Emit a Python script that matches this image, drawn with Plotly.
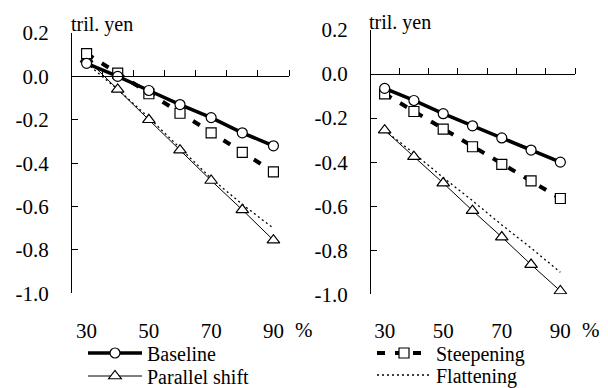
import plotly.graph_objects as go

# Loan-to-value style ratio buckets (%)
ratios = [30, 40, 50, 60, 70, 80, 90]

# Left panel (tril. yen)
left_baseline = [0.06, 0.00, -0.065, -0.13, -0.19, -0.26, -0.32]
left_steepening = [0.105, 0.015, -0.08, -0.17, -0.26, -0.35, -0.44]
left_parallel = [0.08, -0.06, -0.20, -0.34, -0.48, -0.615, -0.755]
left_flattening = [0.06, -0.06, -0.19, -0.33, -0.47, -0.59, -0.70]

# Right panel (tril. yen)
right_baseline = [-0.065, -0.12, -0.18, -0.235, -0.29, -0.345, -0.40]
right_steepening = [-0.09, -0.17, -0.25, -0.33, -0.41, -0.485, -0.565]
right_parallel = [-0.255, -0.375, -0.495, -0.62, -0.74, -0.865, -0.985]
right_flattening = [-0.255, -0.36, -0.47, -0.575, -0.685, -0.79, -0.90]

y_ticks = [-1.0, -0.8, -0.6, -0.4, -0.2, 0.0, 0.2]
y_tick_text = ["-1.0", "-0.8", "-0.6", "-0.4", "-0.2", "0.0", "0.2"]
x_label_vals = [30, 50, 70, 90]
x_label_text = ["30", "50", "70", "90"]
x_boundaries = [25, 35, 45, 55, 65, 75, 85, 95]

W, H = 608, 388
FONT = "Liberation Serif, Times New Roman, serif"


def px_x(p):
    return p / W


def px_y(p):
    return 1 - p / H


panels = [
    dict(x="x", y="y", xl="x3", xdom=(71, 289), ydom=(293.3, 33),
         data=(left_baseline, left_steepening, left_parallel, left_flattening), legend=True),
    dict(x="x2", y="y2", xl="x4", xdom=(370, 575), ydom=(294.3, 30),
         data=(right_baseline, right_steepening, right_parallel, right_flattening), legend=False),
]

fig = go.Figure()

for p in panels:
    base, steep, par, flat = p["data"]
    show = p["legend"]
    fig.add_trace(go.Scatter(
        x=ratios, y=flat, xaxis=p["x"], yaxis=p["y"], mode="lines", name="Flattening",
        line=dict(color="black", width=1.3, dash="2px,3px"),
        showlegend=show, legend="legend4", legendgroup="flat", hoverinfo="skip"))
    fig.add_trace(go.Scatter(
        x=ratios, y=par, xaxis=p["x"], yaxis=p["y"], mode="lines+markers", name="Parallel shift",
        line=dict(color="black", width=1),
        marker=dict(symbol="triangle-up", size=11, color="white", line=dict(color="black", width=1.2)),
        showlegend=show, legend="legend2", legendgroup="par"))
    fig.add_trace(go.Scatter(
        x=ratios, y=steep, xaxis=p["x"], yaxis=p["y"], mode="lines+markers", name="Steepening",
        line=dict(color="black", width=4, dash="8px,10px"),
        marker=dict(symbol="square", size=10, color="white", line=dict(color="black", width=1.2)),
        showlegend=show, legend="legend3", legendgroup="steep"))
    fig.add_trace(go.Scatter(
        x=ratios, y=base, xaxis=p["x"], yaxis=p["y"], mode="lines+markers", name="Baseline",
        line=dict(color="black", width=3.5),
        marker=dict(symbol="circle", size=10, color="white", line=dict(color="black", width=1.2)),
        showlegend=show, legend="legend", legendgroup="base"))
    # invisible carrier so the bottom label axis is drawn
    fig.add_trace(go.Scatter(
        x=ratios, y=base, xaxis=p["xl"], yaxis=p["y"], mode="markers",
        marker=dict(opacity=0), showlegend=False, hoverinfo="skip"))


def legend_box(x, y):
    return dict(x=px_x(x), y=px_y(y), xanchor="left", yanchor="middle", orientation="v",
                itemwidth=54, font=dict(family=FONT, size=20), bgcolor="rgba(0,0,0,0)",
                borderwidth=0, tracegroupgap=0)


layout = dict(
    width=W, height=H,
    margin=dict(l=0, r=0, t=0, b=0, autoexpand=False),
    paper_bgcolor="white", plot_bgcolor="white",
    font=dict(family=FONT, size=20, color="black"),
    legend=legend_box(83, 353),
    legend2=legend_box(83, 376),
    legend3=legend_box(372, 353),
    legend4=legend_box(372, 375),
)

axis_names = [("xaxis", "yaxis", "x", "xaxis3"), ("xaxis2", "yaxis2", "x2", "xaxis4")]
for p, (xa, ya, xref, xlab) in zip(panels, axis_names):
    y0 = px_y(p["ydom"][0])
    y1 = px_y(p["ydom"][1])
    zero_pos = y0 + (0 - (-1.0)) / 1.2 * (y1 - y0)
    xd = (px_x(p["xdom"][0]), px_x(p["xdom"][1]))
    layout[xa] = dict(
        domain=xd, range=[25, 95], anchor="free", position=zero_pos, side="top",
        showline=True, linecolor="black", linewidth=1.3,
        ticks="outside", ticklen=6, tickwidth=1.3, tickcolor="black",
        tickvals=x_boundaries, showticklabels=False, showgrid=False, zeroline=False,
    )
    layout[ya] = dict(
        domain=[y0, y1], range=[-1.0, 0.2], anchor="free", position=xd[0],
        showline=True, linecolor="black", linewidth=1.3,
        ticks="inside", ticklen=6, tickwidth=1.3, tickcolor="black",
        tickvals=y_ticks, ticktext=y_tick_text, ticklabelstandoff=18,
        tickfont=dict(family=FONT, size=21), showgrid=False, zeroline=False,
    )
    layout[xlab] = dict(
        domain=xd, range=[25, 95], overlaying=xref, anchor="free", position=px_y(316), side="bottom",
        showline=False, ticks="", tickvals=x_label_vals, ticktext=x_label_text,
        tickfont=dict(family=FONT, size=21), showgrid=False, zeroline=False,
    )

# percent sign after the last x label, and unit labels above each y axis
layout["annotations"] = [
    dict(text="%", x=px_x(293), y=px_y(330), xref="paper", yref="paper", xanchor="left", yanchor="middle",
         showarrow=False, font=dict(family=FONT, size=21)),
    dict(text="%", x=px_x(580), y=px_y(330), xref="paper", yref="paper", xanchor="left", yanchor="middle",
         showarrow=False, font=dict(family=FONT, size=21)),
    dict(text="tril. yen", x=px_x(69), y=px_y(25), xref="paper", yref="paper", xanchor="left", yanchor="middle",
         showarrow=False, font=dict(family=FONT, size=20)),
    dict(text="tril. yen", x=px_x(367), y=px_y(22), xref="paper", yref="paper", xanchor="left", yanchor="middle",
         showarrow=False, font=dict(family=FONT, size=20)),
]

fig.update_layout(**layout)
fig.write_html("out.html")
